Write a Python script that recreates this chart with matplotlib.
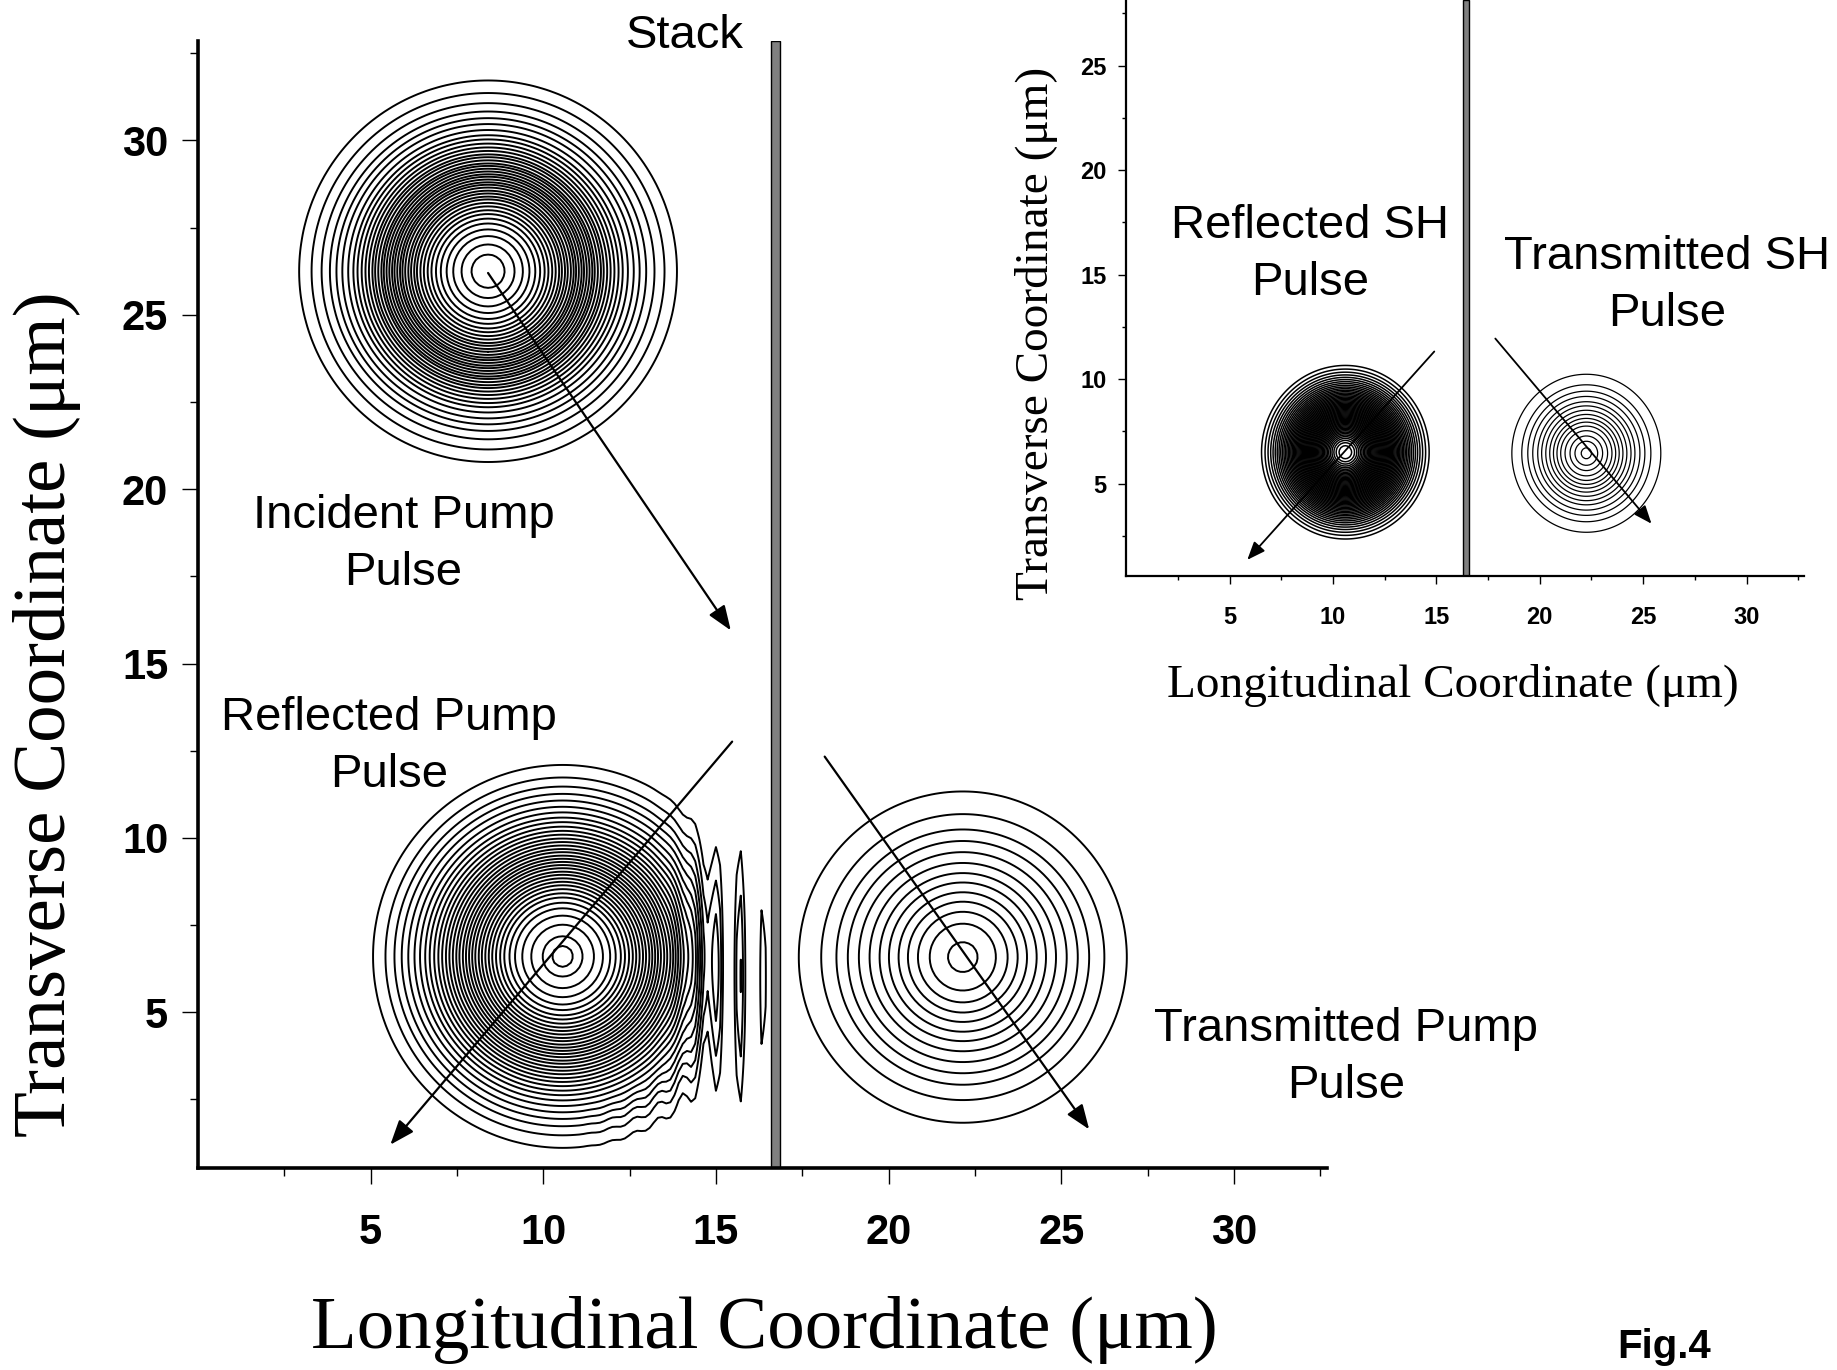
import numpy as np
import matplotlib
matplotlib.use('Agg')
import matplotlib.pyplot as plt

plt.rcParams['font.family'] = ['Liberation Sans', 'DejaVu Sans']

# pulse centres (x, y) in um
incident_c = (8.40, 26.25)
refl_pump_c = (10.56, 6.60)
trans_pump_c = (22.15, 6.58)
refl_sh_c = (10.60, 6.50)
trans_sh_c = (22.25, 6.45)

# contour radii (um) along the horizontal through each centre, outermost first
incident_r = [5.47, 5.11, 4.82, 4.58, 4.39, 4.22, 4.05, 3.90, 3.78, 3.66, 3.55, 3.45,
              3.35, 3.27, 3.18, 3.09, 3.02, 2.94, 2.86, 2.78, 2.71, 2.63, 2.55, 2.48,
              2.40, 2.31, 2.23, 2.14, 2.06, 1.96, 1.86, 1.75, 1.64, 1.51, 1.37, 1.20,
              1.01, 0.77, 0.48]
refl_pump_r = [5.49, 5.13, 4.87, 4.66, 4.47, 4.29, 4.13, 3.98, 3.85, 3.72, 3.60, 3.49,
               3.38, 3.28, 3.18, 3.08, 2.99, 2.89, 2.80, 2.71, 2.62, 2.53, 2.43, 2.34,
               2.24, 2.14, 2.04, 1.93, 1.81, 1.69, 1.54, 1.38, 1.17, 0.91, 0.58, 0.30]
trans_pump_r = [4.75, 4.10, 3.66, 3.33, 3.01, 2.70, 2.41, 2.14, 1.86, 1.59, 1.30, 0.96, 0.43]
trans_sh_r = [3.60, 3.12, 2.83, 2.59, 2.35, 2.16, 1.96, 1.77, 1.59, 1.42, 1.24, 1.03,
              0.79, 0.55, 0.25]
refl_sh_outer = 4.05     # outermost contour radius of reflected SH
refl_sh_nlev = 55        # it is drawn with a lot of contours

# reflected pump: body is cut off on the stack side, fringes in front of the stack
body_edge = 14.75        # x where the body fades out
fringe_x0 = 15.70        # brightest fringe
fringe_period = 0.68
fringe_yc = 6.0
fringe_amp = 0.14

stack_main = (16.59, 16.85)
stack_inset = (16.30, 16.59)

# arrows (start, end) in data units
main_arrows = [((8.40, 26.20), (15.43, 15.95)),
               ((15.47, 12.76), (5.57, 1.20)),
               ((18.15, 12.33), (25.81, 1.64))]
inset_arrows = [((14.90, 11.32), (5.86, 1.35)),
                ((17.85, 11.94), (25.40, 3.08))]

major = [5, 10, 15, 20, 25, 30]
minor = [2.5, 7.5, 12.5, 17.5, 22.5, 27.5, 32.5]

W = 3.5  # width used to turn contour radii into gaussian levels


def gauss(X, Y, c, sy=1.0, w=W):
    return np.exp(-((X - c[0]) ** 2 + ((Y - c[1]) / sy) ** 2) / w ** 2)


def levels(radii, w=W):
    return np.sort(np.exp(-np.array(radii) ** 2 / w ** 2))


def style_axes(a, lw, tl, fs, padx, pady, xlim, ylim):
    for s in ['top', 'right']:
        a.spines[s].set_visible(False)
    for s in ['left', 'bottom']:
        a.spines[s].set_linewidth(lw)
    a.set_xticks(major)
    a.set_yticks(major)
    a.set_xticks(minor, minor=True)
    a.set_yticks(minor, minor=True)
    a.set_xlim(*xlim)
    a.set_ylim(*ylim)
    a.tick_params(which='major', direction='out', length=tl, width=1.0)
    a.tick_params(which='minor', direction='out', length=tl / 2, width=1.0)
    a.tick_params(axis='x', pad=padx)
    a.tick_params(axis='y', pad=pady)
    for t in a.get_xticklabels() + a.get_yticklabels():
        t.set_fontsize(fs)
        t.set_fontweight('bold')


fig = plt.figure(figsize=(18.37, 13.70), dpi=100)

# ---------------- main panel ----------------
ax = fig.add_axes([0.1078, 0.1474, 0.6146, 0.8226])

x = np.arange(0, 32.8, 0.12)
y = np.arange(0.3, 33.0, 0.12)
X, Y = np.meshgrid(x, y)

ax.contour(X, Y, gauss(X, Y, incident_c), levels=levels(incident_r),
           colors='k', linewidths=1.4)

# reflected pump
G = gauss(X, Y, refl_pump_c)
R = np.hypot(X - refl_pump_c[0], Y - refl_pump_c[1])
cut = 1 / (1 + np.exp((X - body_edge) / 0.35))
phase = np.pi * (X - fringe_x0) / fringe_period
# small ripple on the outer rings only, lower right
wig = (0.10 * np.clip((X - 11.0) / 3.0, 0, 1) * np.clip((R - 4.2) / 0.8, 0, 1)
       * np.exp(-((Y - 3.0) / 3.5) ** 2))
S = (fringe_amp * np.exp(-((X - fringe_x0) / 1.18) ** 2)
     * np.exp(-((Y - fringe_yc) / 5.0) ** 2) * np.cos(phase) ** 2)
F = G * cut * (1 + wig * np.cos(2 * phase)) + S
F[X > stack_main[0] - 0.02] = 0
ax.contour(X, Y, F, levels=levels(refl_pump_r), colors='k', linewidths=1.4)

ax.contour(X, Y, gauss(X, Y, trans_pump_c), levels=levels(trans_pump_r),
           colors='k', linewidths=1.4)

ax.axvspan(stack_main[0], stack_main[1], facecolor='#808080', edgecolor='k', lw=1.0)

for s, e in main_arrows:
    ax.annotate('', xy=e, xytext=s,
                arrowprops=dict(arrowstyle='-|>,head_length=1.0,head_width=0.38',
                                mutation_scale=15, lw=1.6, color='k',
                                shrinkA=0, shrinkB=0))

tkw = dict(fontsize=34, ha='center', va='center', linespacing=1.38)
ax.text(14.1, 33.0, 'Stack', clip_on=False, **tkw)
ax.text(5.95, 18.40, 'Incident Pump\nPulse', **tkw)
ax.text(5.54, 12.63, 'Reflected Pump\nPulse', **tkw)
ax.text(33.25, 3.69, 'Transmitted Pump\nPulse', clip_on=False, **tkw)

style_axes(ax, 2.6, 11.5, 30, 21, 10, (0, 32.7), (0.53, 32.85))

# ---------------- inset panel ----------------
ins = fig.add_axes([0.613, 0.5793, 0.369, 0.4207])
ins.patch.set_alpha(0)

xi = np.arange(0, 32.8, 0.1)
yi = np.arange(0.3, 28.2, 0.1)
Xi, Yi = np.meshgrid(xi, yi)

w_sh = 2.48
lo = np.exp(-refl_sh_outer ** 2 / w_sh ** 2)
ins.contour(Xi, Yi, gauss(Xi, Yi, refl_sh_c, sy=1.025, w=w_sh),
            levels=np.linspace(lo, 0.985, refl_sh_nlev), colors='k', linewidths=1.1)
ins.contour(Xi, Yi, gauss(Xi, Yi, trans_sh_c, sy=1.05), levels=levels(trans_sh_r),
            colors='k', linewidths=0.9)

ins.axvspan(stack_inset[0], stack_inset[1], facecolor='#808080', edgecolor='k', lw=1.0)

for s, e in inset_arrows:
    ins.annotate('', xy=e, xytext=s,
                 arrowprops=dict(arrowstyle='-|>,head_length=1.0,head_width=0.4',
                                 mutation_scale=11, lw=1.3, color='k',
                                 shrinkA=0, shrinkB=0))

ins.text(8.90, 15.98, 'Reflected SH\nPulse', **tkw)
ins.text(26.15, 14.46, 'Transmitted SH\nPulse', clip_on=False, **tkw)

style_axes(ins, 1.6, 6.0, 17, 15, 8, (0, 32.77), (0.56, 28.14))

# axis titles (Times-like)
fig.text(0.4159, 0.029, 'Longitudinal Coordinate (\u03bcm)', family='Liberation Serif',
         fontsize=54, ha='center', va='center')
fig.text(0.0256, 0.479, 'Transverse Coordinate (\u03bcm)', family='Liberation Serif',
         fontsize=54, ha='center', va='center', rotation=90)
fig.text(0.791, 0.4997, 'Longitudinal Coordinate (\u03bcm)', family='Liberation Serif',
         fontsize=34, ha='center', va='center')
fig.text(0.5645, 0.757, 'Transverse Coordinate (\u03bcm)', family='Liberation Serif',
         fontsize=34, ha='center', va='center', rotation=90)

fig.text(0.906, 0.017, 'Fig.4', fontsize=29, fontweight='bold', ha='center', va='center')

fig.savefig('out.png', dpi=100)
